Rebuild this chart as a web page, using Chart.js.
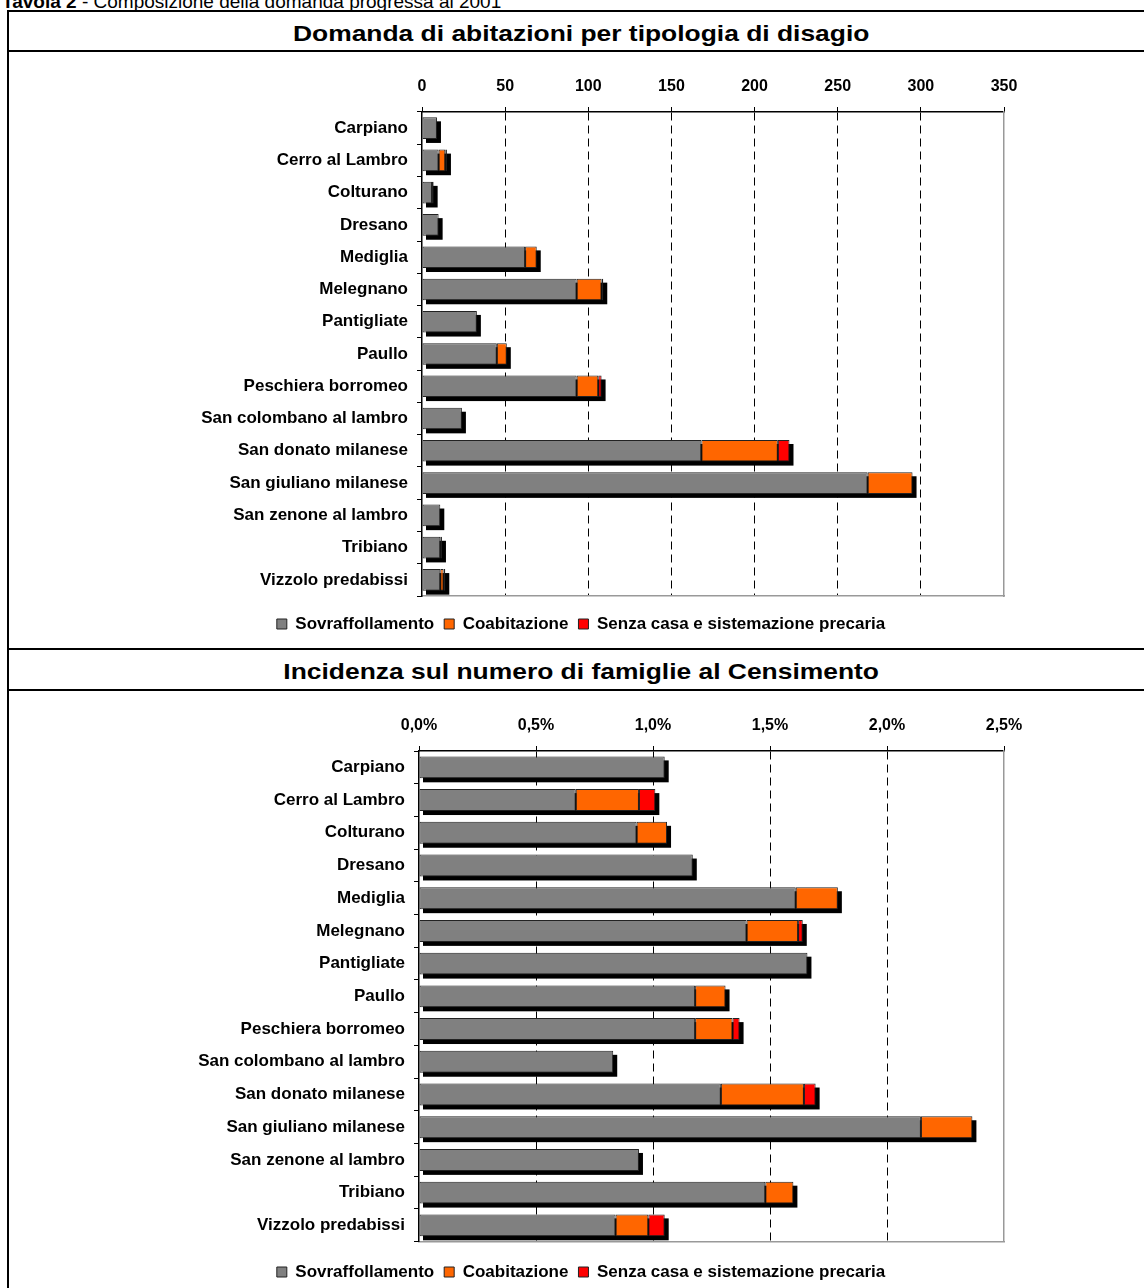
<!DOCTYPE html>
<html lang="it">
<head>
<meta charset="UTF-8">
<title>Tavola 2 - Composizione della domanda progressa al 2001</title>
<script src="https://cdn.jsdelivr.net/npm/chart.js"></script>
<style>
  html, body { margin: 0; padding: 0; background: #fff; }
  body {
    width: 1144px; height: 1288px; overflow: hidden; position: relative;
    font-family: "Liberation Sans", Arial, sans-serif; color: #000;
  }
  .header { position: absolute; left: 2px; top: -8px; font-size: 19px; line-height: 19px; white-space: nowrap; }
  .frame { position: absolute; left: 7px; top: 10px; width: 1170px; height: 1300px; border: 2px solid #000; }
  .rule { position: absolute; left: 7px; width: 1170px; height: 2px; background: #000; }
  .title {
    position: absolute; left: 8px; width: 1146px; height: 40px; line-height: 40px;
    text-align: center; font-weight: bold; font-size: 22px; white-space: nowrap;
  }
  .title span { display: inline-block; transform: scaleX(1.2); }
  canvas { position: absolute; left: 0; }
</style>
</head>
<body>
  <div class="header"><b>Tavola 2</b> - Composizione della domanda progressa al 2001</div>
  <div class="frame"></div>
  <div class="rule" style="top:50px"></div>
  <div class="rule" style="top:648px"></div>
  <div class="rule" style="top:689px"></div>
  <div class="title" style="top:14px"><span>Domanda di abitazioni per tipologia di disagio</span></div>
  <div class="title" style="top:652px"><span>Incidenza sul numero di famiglie al Censimento</span></div>

  <canvas id="domanda" width="1144" height="595" style="top:53px"></canvas>
  <canvas id="incidenza" width="1144" height="600" style="top:692px"></canvas>

<script>
const comuni = ['Carpiano', 'Cerro al Lambro', 'Colturano', 'Dresano', 'Mediglia', 'Melegnano',
  'Pantigliate', 'Paullo', 'Peschiera borromeo', 'San colombano al lambro', 'San donato milanese',
  'San giuliano milanese', 'San zenone al lambro', 'Tribiano', 'Vizzolo predabissi'];
const serie = ['Sovraffollamento', 'Coabitazione', 'Senza casa e sistemazione precaria'];
const colori = ['#808080', '#FF6600', '#FF0000'];

// domanda di abitazioni (numero)
const domSovraff   = [9, 10, 6, 10, 62, 93, 33, 45, 93, 24, 168, 268, 11, 11, 11];
const domCoabit    = [0, 4, 1, 0, 7, 15, 0, 6, 13, 0, 46, 27, 0, 1, 2];
const domSenzaCasa = [0, 1, 0, 0, 0, 1, 0, 0, 2, 0, 7, 0, 0, 0, 1];
const tickDomanda  = [0, 50, 100, 150, 200, 250, 300, 350];

// incidenza sulle famiglie (%)
const incSovraff   = [1.05, 0.67, 0.93, 1.17, 1.61, 1.40, 1.66, 1.18, 1.18, 0.83, 1.29, 2.145, 0.94, 1.48, 0.84];
const incCoabit    = [0, 0.27, 0.13, 0, 0.18, 0.22, 0, 0.13, 0.16, 0, 0.355, 0.22, 0, 0.12, 0.14];
const incSenzaCasa = [0, 0.07, 0, 0, 0, 0.02, 0, 0, 0.03, 0, 0.05, 0, 0, 0, 0.07];
const tickIncidenza = [0, 0.5, 1, 1.5, 2, 2.5];
const tickIncLabels = ['0,0%', '0,5%', '1,0%', '1,5%', '2,0%', '2,5%'];

const FONT = "'Liberation Sans', Arial, sans-serif";

// black drop shadow behind each stacked bar
const ombra = {
  id: 'ombra',
  beforeDatasetsDraw(chart) {
    const ctx = chart.ctx, x = chart.scales.x;
    const meta = chart.getDatasetMeta(0);
    ctx.save();
    ctx.fillStyle = '#000';
    chart.data.labels.forEach((_, i) => {
      const tot = chart.data.datasets.reduce((s, d) => s + (d.data[i] || 0), 0);
      const bar = meta.data[i];
      const x0 = x.getPixelForValue(0), x1 = x.getPixelForValue(tot);
      ctx.fillRect(x0 + 4, bar.y - bar.height / 2 + 4, x1 - x0, bar.height);
    });
    ctx.restore();
  }
};

function makeChart(id, valori, ticks, tickLabel, yWidth, x2Height, padBottom) {
  const last = ticks[ticks.length - 1];
  return new Chart(document.getElementById(id), {
    type: 'bar',
    data: {
      labels: comuni,
      datasets: valori.map((v, i) => ({
        label: serie[i],
        data: v,
        backgroundColor: colori[i],
        borderColor: '#222',
        borderWidth: 1,
        borderSkipped: false,
        barPercentage: 0.67,
        categoryPercentage: 1
      }))
    },
    options: {
      indexAxis: 'y',
      responsive: false,
      animation: false,
      layout: { padding: { left: 158, right: 140, top: 0, bottom: padBottom } },
      plugins: {
        legend: {
          position: 'bottom',
          labels: { boxWidth: 10, boxHeight: 10, padding: 10, color: '#000',
                    font: { family: FONT, weight: 'bold', size: 17 } }
        },
        tooltip: { enabled: false }
      },
      scales: {
        x: {
          position: 'top', stacked: true, min: 0, max: last,
          afterBuildTicks: s => { s.ticks = ticks.map(v => ({ value: v })); },
          afterFit: s => { s.height = 59; },
          grid: {
            color: c => (c.index === 0 || c.index === ticks.length - 1) ? 'rgba(0,0,0,0)' : '#000',
            tickColor: '#000', tickLength: 5, lineWidth: 1
          },
          border: { color: '#000', width: 1.5, dash: [8, 5] },
          ticks: { color: '#000', padding: 11, font: { family: FONT, weight: 'bold', size: 16 },
                   callback: (v, i) => tickLabel(v, i) }
        },
        x2: {
          position: 'bottom', min: 0, max: last,
          afterFit: s => { s.height = x2Height; },
          grid: { display: false, drawTicks: false },
          ticks: { display: false },
          border: { color: '#999', width: 1.5 }
        },
        y: {
          stacked: true,
          afterFit: s => { s.width = yWidth; },
          grid: { offset: true, drawOnChartArea: false, tickLength: 5, tickColor: '#000' },
          border: { color: '#000', width: 1.5 },
          ticks: { color: '#000', padding: 9, font: { family: FONT, weight: 'bold', size: 17 } }
        },
        y2: {
          type: 'category', position: 'right',
          afterFit: s => { s.width = 0; },
          grid: { display: false, drawTicks: false },
          ticks: { display: false },
          border: { color: '#999', width: 1.5 }
        }
      }
    },
    plugins: [ombra]
  });
}

makeChart('domanda', [domSovraff, domCoabit, domSenzaCasa], tickDomanda,
  v => String(v), 264, 9.5, 5.5);
makeChart('incidenza', [incSovraff, incCoabit, incSenzaCasa], tickIncidenza,
  (v, i) => tickIncLabels[i], 261, 11.8, 1.5);
</script>
</body>
</html>
